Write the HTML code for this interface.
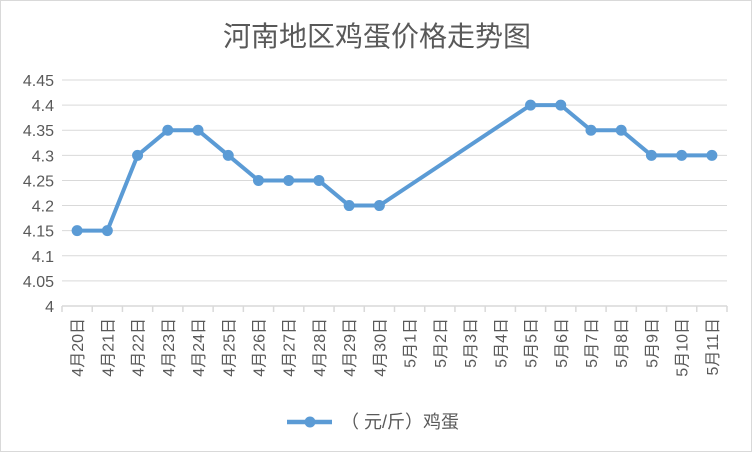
<!DOCTYPE html>
<html><head><meta charset="utf-8"><style>
body{margin:0;background:#fff}
#wrap{position:relative;width:752px;height:452px;box-sizing:border-box;border:1px solid #d9d9d9;background:#fff}
text{font-family:"Liberation Sans","Noto Sans CJK SC",sans-serif}
</style></head><body>
<div id="wrap">
<svg id="svg" width="750" height="450" xmlns="http://www.w3.org/2000/svg" style="position:absolute;left:0;top:0">
<text x="376" y="45" text-anchor="middle" font-size="28" fill="#595959">河南地区鸡蛋价格走势图</text>
<g id="grid"></g><g id="ylab"></g><g id="xax"></g><g id="series"></g>
<g>
<line x1="286" y1="421" x2="331" y2="421" stroke="#5b9bd5" stroke-width="4.5"/>
<circle cx="309" cy="421" r="5.5" fill="#5b9bd5"/>
<text x="340" y="427" font-size="18" fill="#595959">（ 元/斤）鸡蛋</text>
</g>
</svg></div>
<script>
const categories=["4月20日","4月21日","4月22日","4月23日","4月24日","4月25日","4月26日","4月27日","4月28日","4月29日","4月30日","5月1日","5月2日","5月3日","5月4日","5月5日","5月6日","5月7日","5月8日","5月9日","5月10日","5月11日"];
const values=[4.15,4.15,4.3,4.35,4.35,4.3,4.25,4.25,4.25,4.2,4.2,null,null,null,null,4.4,4.4,4.35,4.35,4.3,4.3,4.3];
const yTicks=[4,4.05,4.1,4.15,4.2,4.25,4.3,4.35,4.4,4.45];
const yTickLabels=["4","4.05","4.1","4.15","4.2","4.25","4.3","4.35","4.4","4.45"];
const NS="http://www.w3.org/2000/svg";
const L=61,R=726,T=79,B=305,ymin=4,ymax=4.45;
const bw=(R-L)/categories.length;
const x=i=>L+bw*(i+0.5);
const y=v=>B-(v-ymin)/(ymax-ymin)*(B-T);
function mk(t,a,p){const e=document.createElementNS(NS,t);for(const k in a)e.setAttribute(k,a[k]);p.appendChild(e);return e;}
const grid=document.getElementById('grid'),ylab=document.getElementById('ylab'),xax=document.getElementById('xax'),ser=document.getElementById('series');
yTicks.forEach((v,i)=>{
 if(i>0){const g=mk('line',{x1:L,x2:R,y1:y(v),y2:y(v),stroke:'#d9d9d9','stroke-width':1},grid);
 
 }
 const t=mk('text',{x:L-8,y:y(v)+6,'text-anchor':'end','font-size':16,fill:'#595959'},ylab);
 t.textContent=yTickLabels[i];
 
 
});
const ax=mk('line',{x1:L,x2:R,y1:B,y2:B,stroke:'#d9d9d9','stroke-width':1.5},xax);


for(let i=0;i<=categories.length;i++){const tk=mk('line',{x1:L+bw*i,x2:L+bw*i,y1:B,y2:B+6,stroke:'#d9d9d9','stroke-width':1.5},xax);
 
 }
categories.forEach((c,i)=>{
 const t=mk('text',{x:0,y:0,'text-anchor':'end','font-size':16,fill:'#595959',transform:`translate(${x(i)+6},${B+12}) rotate(-90)`},xax);
 t.textContent=c;
 
 
});
const pts=[];values.forEach((v,i)=>{if(v!=null)pts.push([x(i),y(v)]);});
const pl=mk('polyline',{points:pts.map(p=>p.join(',')).join(' '),fill:'none',stroke:'#5b9bd5','stroke-width':4,'stroke-linejoin':'round'},ser);


pts.forEach(p=>{const c=mk('circle',{cx:p[0],cy:p[1],r:5.5,fill:'#5b9bd5'},ser);
 
 });
</script>
</body></html>
